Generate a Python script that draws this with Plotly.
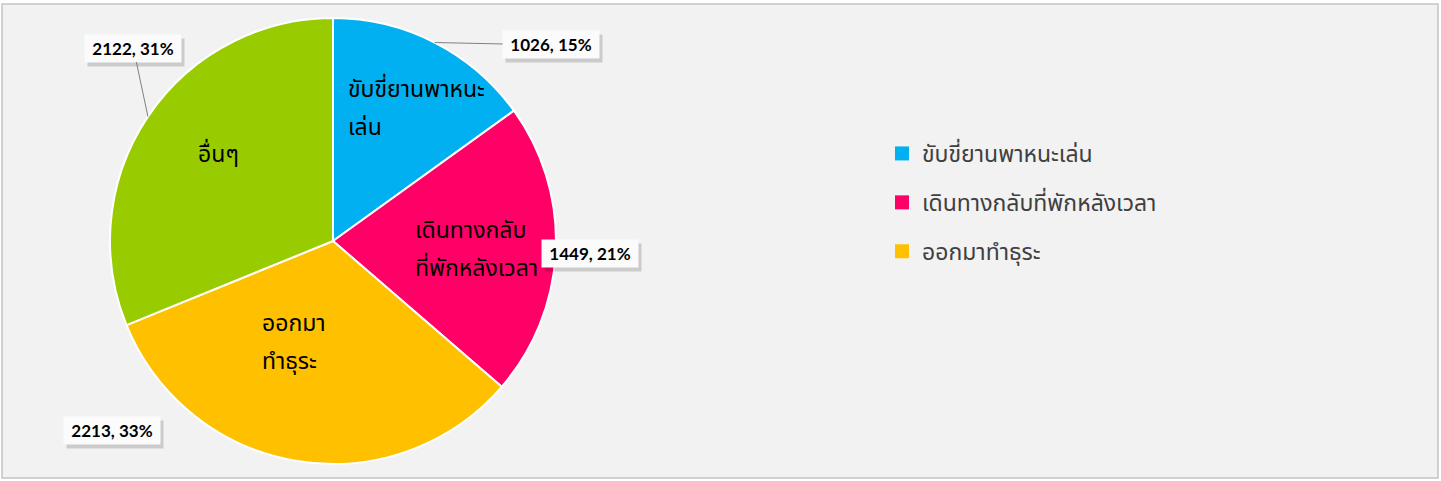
import math
import plotly.graph_objects as go

# data
labels = ["ขับขี่ยานพาหนะเล่น", "เดินทางกลับที่พักหลังเวลา", "ออกมาทำธุระ", "อื่นๆ"]
values = [1026, 1449, 2213, 2122]
percents = [15, 21, 33, 31]
colors = ["#00b0f0", "#ff0066", "#ffc000", "#99cc00"]
inside_lines = [["ขับขี่ยานพาหนะ", "เล่น"], ["เดินทางกลับ", "ที่พักหลังเวลา"], ["ออกมา", "ทำธุระ"], ["อื่นๆ"]]
legend_items = labels[:3]

W, H = 1441, 481
CX, CY, R = 333, 241, 223  # pie centre / radius in px

# label placement (offsets from pie centre, in radius units)
inside_pos = [(0.058, -0.592), (0.359, 0.040), (-0.327, 0.457), (-0.614, -0.386)]
box_pos = [(0.978, -0.879), (1.152, 0.056), (-0.991, 0.848), (-0.895, -0.865)]
leader = [True, False, False, True]

THAI = "Noto Sans Thai, Noto Sans, Tahoma, sans-serif"


def paper(px, py):
    return px / W, 1 - py / H


fig = go.Figure()
fig.add_trace(go.Pie(
    labels=labels, values=values, sort=False, direction="clockwise", rotation=0,
    marker=dict(colors=colors, line=dict(color="white", width=2)),
    textinfo="none", showlegend=False,
    domain=dict(x=[(CX - R) / W, (CX + R) / W], y=[1 - (CY + R) / H, 1 - (CY - R) / H]),
))

for name, c in zip(legend_items, colors):
    fig.add_trace(go.Scatter(x=[None], y=[None], mode="markers", name=name, legendgroup=name,
                             marker=dict(symbol="square", size=14, color=c)))

total = sum(values)
mids = []
cum = 0
for v in values:
    mids.append((cum + v / 2) / total * 360)
    cum += v

annotations = []
# text inside the slices
for lines, (dx, dy) in zip(inside_lines, inside_pos):
    x, y = paper(CX + dx * R, CY + dy * R)
    n = len(lines)
    for i, line in enumerate(lines):
        annotations.append(dict(x=x, y=y, xref="paper", yref="paper", text=line, showarrow=False,
                                xanchor="left", yanchor="middle", yshift=(n - 1) / 2 * 38 - i * 38,
                                font=dict(family=THAI, size=23, color="#000000")))

# value boxes outside the pie
for v, p, a, (dx, dy), ld in zip(values, percents, mids, box_pos, leader):
    ex = CX + R * math.sin(math.radians(a))
    ey = CY - R * math.cos(math.radians(a))
    bx, by = CX + dx * R, CY + dy * R
    x, y = paper(ex, ey)
    # soft shadow box
    annotations.append(dict(x=x, y=y, xref="paper", yref="paper", text=" ", showarrow=True,
                            ax=bx - ex + 3, ay=by - ey + 4, arrowcolor="rgba(0,0,0,0)",
                            width=88, height=19, bgcolor="rgba(0,0,0,0.16)", borderpad=4))
    annotations.append(dict(x=x, y=y, xref="paper", yref="paper", text=f"<b>{v}, {p}%</b>",
                            showarrow=True, ax=bx - ex, ay=by - ey, arrowhead=0, arrowwidth=1,
                            arrowcolor="#808080" if ld else "rgba(0,0,0,0)",
                            width=88, height=19, bgcolor="#fbfbfb", borderpad=4,
                            font=dict(family="Lato, sans-serif", size=17, color="#000000")))

x0, y1 = paper(2, 4)
x1, y0 = paper(1438, 478)

fig.update_layout(
    width=W, height=H,
    margin=dict(l=0, r=0, t=0, b=0),
    paper_bgcolor="white", plot_bgcolor="rgba(0,0,0,0)",
    xaxis=dict(visible=False), yaxis=dict(visible=False),
    shapes=[dict(type="rect", xref="paper", yref="paper", x0=x0, x1=x1, y0=y0, y1=y1,
                 line=dict(color="#c4c4c4", width=1.5), fillcolor="#f2f2f2", layer="below")],
    annotations=annotations,
    legend=dict(x=882 / W, y=1 - 132 / H, xanchor="left", yanchor="top",
                font=dict(family=THAI, size=23, color="#404040"),
                tracegroupgap=16, bgcolor="rgba(0,0,0,0)"),
)

fig.write_html("out.html", config={"displayModeBar": False},
               post_script="document.body.style.margin='0';document.body.style.overflow='hidden';")
